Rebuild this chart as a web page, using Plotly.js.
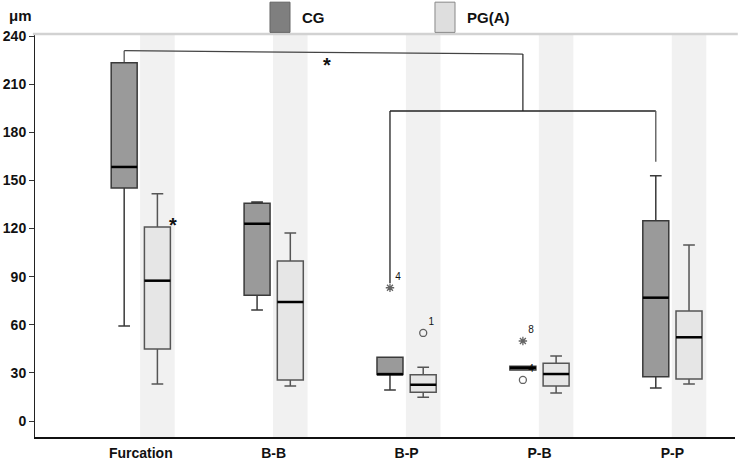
<!DOCTYPE html>
<html>
<head>
<meta charset="utf-8">
<script src="https://cdn.plot.ly/plotly-3.0.1.min.js"></script>
<style>html,body{margin:0;padding:0;background:#fff;}#chart{width:738px;height:466px;}</style>
</head>
<body>
<div id="chart"></div>
<script>
// ---- data ----
const categories = ['Furcation', 'B-B', 'B-P', 'P-B', 'P-P'];

const cgLower  = [59.2, 69.2, 19.3, 31.8, 20.6];
const cgQ1     = [145.3, 78.4, 29.0, 31.8, 27.6];
const cgMedian = [158.4, 123.0, 29.1, 33.2, 76.9];
const cgQ3     = [223.4, 135.7, 39.7, 34.1, 124.9];
const cgUpper  = [223.4, 136.5, 39.7, 34.1, 152.9];

const pgLower  = [23.1, 21.8, 14.8, 17.5, 23.1];
const pgQ1     = [44.9, 25.6, 17.9, 21.8, 26.2];
const pgMedian = [87.5, 74.2, 22.6, 29.3, 52.2];
const pgQ3     = [121.0, 99.8, 28.9, 36.0, 68.6];
const pgUpper  = [141.7, 117.2, 33.5, 40.5, 109.7];

// outliers: kind 'extreme' (*) or 'outlier' (o), with case labels
const cgOutCats   = ['B-P', 'P-B', 'P-B'];
const cgOutValues = [83.1, 49.9, 25.6];
const cgOutKinds  = ['extreme', 'extreme', 'outlier'];
const cgOutLabels = ['4', '8', '4'];

const pgOutCats   = ['B-P'];
const pgOutValues = [54.9];
const pgOutKinds  = ['outlier'];
const pgOutLabels = ['1'];

const yTicks = [0, 30, 60, 90, 120, 150, 180, 210, 240];

// ---- styling / layout constants ----
const FONT = 'Liberation Sans, Arial, sans-serif';
const CG_FILL = '#9a9a9a', PG_FILL = '#e6e6e6';
const BOXGAP = 0.5, GROUPGAP = 0.218;
const OFF = (1 - BOXGAP) / 4;                 // centre offset of each group
const HALF = (1 - BOXGAP) / 2 * (1 - GROUPGAP) / 2; // half box width

function boxTrace(name, lower, q1, med, q3, upper, fill, line) {
  return {
    type: 'box', name: name, x: categories, orientation: 'v',
    lowerfence: lower, q1: q1, median: med, q3: q3, upperfence: upper,
    fillcolor: fill, line: {color: line, width: 1.5}, whiskerwidth: 0.45,
    offsetgroup: name, showlegend: false, hoverinfo: 'skip'
  };
}
function outTrace(name, cats, vals, kinds, labels, greyFirst) {
  return {
    type: 'scatter', mode: 'markers+text', x: cats, y: vals, text: labels,
    offsetgroup: name, showlegend: false, hoverinfo: 'skip',
    textposition: 'top right', textfont: {family: FONT, size: 10, color: '#111'},
    cliponaxis: false,
    marker: {
      symbol: kinds.map(k => k === 'extreme' ? 'asterisk-open' : 'circle-open'),
      size: kinds.map(k => k === 'extreme' ? 7 : 7),
      line: {width: 1.3, color: kinds.map((k, i) => (greyFirst && i === 0) ? '#aaaaaa' : '#222')},
      color: '#222'
    }
  };
}

const traces = [
  boxTrace('CG', cgLower, cgQ1, cgMedian, cgQ3, cgUpper, CG_FILL, '#3a3a3a'),
  boxTrace('PG(A)', pgLower, pgQ1, pgMedian, pgQ3, pgUpper, PG_FILL, '#555555'),
  outTrace('CG', cgOutCats, cgOutValues, cgOutKinds, cgOutLabels, true),
  outTrace('PG(A)', pgOutCats, pgOutValues, pgOutKinds, pgOutLabels, false)
];

const shapes = [];
// light grey bands behind the PG(A) boxes
categories.forEach((c, i) => {
  shapes.push({type: 'rect', xref: 'x', yref: 'paper', x0: i + OFF - 0.13, x1: i + OFF + 0.13,
    y0: 0, y1: 1, fillcolor: '#f1f1f1', line: {width: 0}, layer: 'below'});
});
// thick black median lines
categories.forEach((c, i) => {
  shapes.push({type: 'line', xref: 'x', yref: 'y', x0: i - OFF - HALF, x1: i - OFF + HALF,
    y0: cgMedian[i], y1: cgMedian[i], line: {color: '#000', width: 2.5}});
  shapes.push({type: 'line', xref: 'x', yref: 'y', x0: i + OFF - HALF, x1: i + OFF + HALF,
    y0: pgMedian[i], y1: pgMedian[i], line: {color: '#000', width: 2.5}});
});
// significance brackets
const L = (x0, y0, x1, y1, col) => shapes.push({type: 'line', xref: 'x', yref: 'y',
  x0: x0, y0: y0, x1: x1, y1: y1, line: {color: col || '#333', width: 1.3}});
L(-OFF, 223.8, -OFF, 230.9, '#555');
L(-OFF, 230.9, 3 - OFF, 228.8, '#444');
L(3 - OFF, 228.8, 3 - OFF, 193.3, '#333');
L(2 - OFF, 193.3, 4 - OFF, 193.3, '#222');
L(2 - OFF, 193.3, 2 - OFF, 86, '#222');
L(4 - OFF, 193.3, 4 - OFF, 161.7, '#555');
// legend strip
shapes.push({type: 'line', xref: 'paper', yref: 'paper', x0: -0.003, x1: 1.004, y0: 1.0, y1: 1.0,
  line: {color: '#d2d2d2', width: 2.5}});
shapes.push({type: 'rect', xref: 'paper', yref: 'paper', x0: 0.3357, x1: 0.3643, y0: 1.004, y1: 1.079,
  fillcolor: '#7f7f7f', line: {color: '#666', width: 1}});
shapes.push({type: 'rect', xref: 'paper', yref: 'paper', x0: 0.5714, x1: 0.6, y0: 1.004, y1: 1.079,
  fillcolor: '#dedede', line: {color: '#888', width: 1}});

const annotations = [
  {xref: 'paper', yref: 'paper', x: 0.3786, y: 1.042, xanchor: 'left', yanchor: 'middle', showarrow: false,
   text: 'CG', font: {family: FONT, size: 15, weight: 'bold', color: '#111'}},
  {xref: 'paper', yref: 'paper', x: 0.6143, y: 1.042, xanchor: 'left', yanchor: 'middle', showarrow: false,
   text: 'PG(A)', font: {family: FONT, size: 15, weight: 'bold', color: '#111'}},
  {xref: 'paper', yref: 'paper', x: -0.04, y: 1.047, xanchor: 'left', yanchor: 'middle', showarrow: false,
   text: 'μm', font: {family: FONT, size: 15, weight: 'bold', color: '#111'}},
  {xref: 'x', yref: 'y', x: 1.4, y: 222, showarrow: false, text: '*',
   font: {family: FONT, size: 20, weight: 'bold', color: '#111'}},
  {xref: 'x', yref: 'y', x: 0.245, y: 122, showarrow: false, text: '*',
   font: {family: FONT, size: 20, weight: 'bold', color: '#111'}}
];

const layout = {
  width: 738, height: 466,
  margin: {l: 35, r: 3, t: 34, b: 29, pad: 0},
  paper_bgcolor: '#fff', plot_bgcolor: '#fff',
  boxmode: 'group', boxgap: BOXGAP, boxgroupgap: GROUPGAP,
  scattermode: 'group', scattergap: BOXGAP,
  showlegend: false,
  font: {family: FONT, color: '#111'},
  xaxis: {
    type: 'category', range: [-0.796, 4.471], showgrid: false, zeroline: false,
    showline: true, linecolor: '#111', linewidth: 2,
    ticks: 'outside', ticklen: 2, tickcolor: 'rgba(0,0,0,0)',
    tickfont: {family: FONT, size: 14, weight: 'bold', color: '#111'}
  },
  yaxis: {
    range: [-9.97, 241.3], tickvals: yTicks, ticktext: yTicks.map(String),
    showgrid: false, zeroline: false, showline: true, linecolor: '#222', linewidth: 1,
    ticks: 'outside', ticklen: 5, tickcolor: '#333',
    tickfont: {family: FONT, size: 14, weight: 'bold', color: '#111'}
  },
  shapes: shapes,
  annotations: annotations
};

Plotly.newPlot('chart', traces, layout, {displayModeBar: false, staticPlot: true});
</script>
</body>
</html>
